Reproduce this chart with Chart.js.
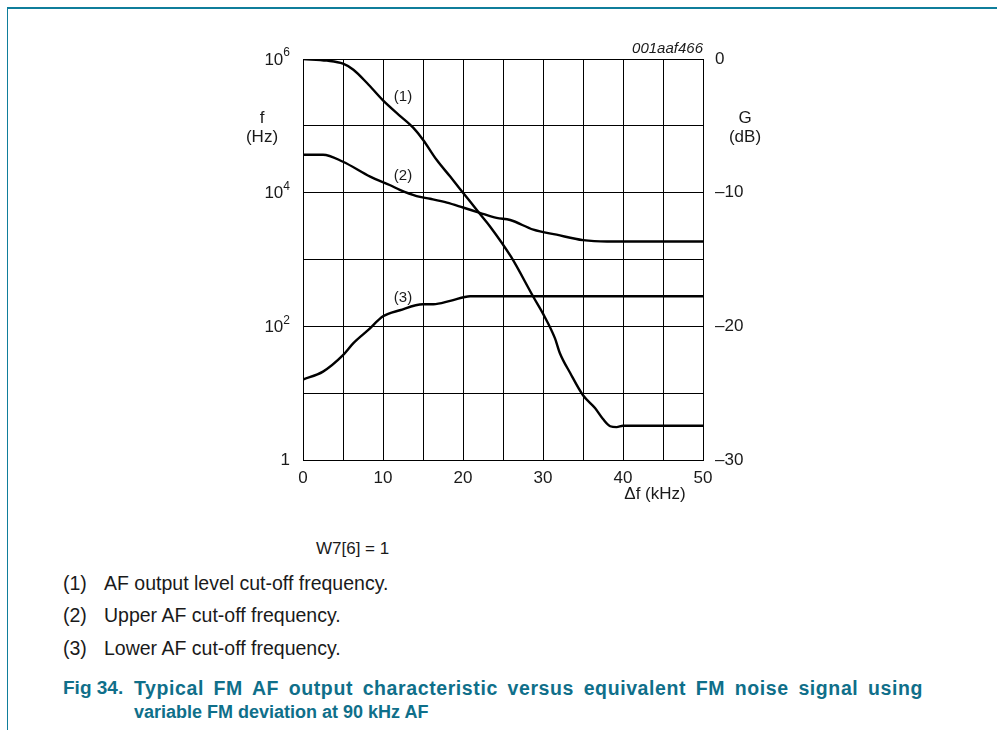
<!DOCTYPE html>
<html>
<head>
<meta charset="utf-8">
<script src="https://cdn.jsdelivr.net/npm/chart.js@4.4.1/dist/chart.umd.min.js"></script>
<style>
  body { margin: 0; width: 997px; height: 730px; background: #fff; position: relative; overflow: hidden;
         font-family: "Liberation Sans", Arial, sans-serif; color: #1a1a1a; }
  .frame { position: absolute; left: 7px; top: 7px; right: -5px; bottom: -5px;
           border-top: 2px solid #0f7e9b; border-left: 1px solid #0f7e9b; }
  #wrap { position: absolute; left: 200px; top: 30px; width: 580px; height: 490px; }
  .note { position: absolute; font-size: 19.5px; line-height: 22px; white-space: nowrap; }
  .title { position: absolute; font-size: 18px; font-weight: bold; color: #0f6f8a; line-height: 22px; white-space: nowrap; }
  .just { width: 789px; font-size: 19.5px; letter-spacing: 0.6px; text-align: justify; text-align-last: justify; }
</style>
</head>
<body>
<div class="frame"></div>
<div id="wrap"><canvas id="c"></canvas></div>

<div class="note" style="left:316px; top:538px; font-size:17px;">W7[6] = 1</div>
<div class="note" style="left:63px; top:572px;">(1)</div>
<div class="note" style="left:104px; top:572px;">AF output level cut-off frequency.</div>
<div class="note" style="left:63px; top:604px;">(2)</div>
<div class="note" style="left:104px; top:604px;">Upper AF cut-off frequency.</div>
<div class="note" style="left:63px; top:637px;">(3)</div>
<div class="note" style="left:104px; top:637px;">Lower AF cut-off frequency.</div>
<div class="title" style="left:63px; top:677px; font-size:19px;">Fig 34.</div>
<div class="title just" style="left:134px; top:677px;">Typical FM AF output characteristic versus equivalent FM noise signal using</div>
<div class="title" style="left:134px; top:701px;">variable FM deviation at 90 kHz AF</div>

<script>
// curve (1): AF output level cut-off frequency
const curve1Df = [0, 3, 5, 6.3, 8, 10, 12, 13.8, 15, 16.7, 18.4, 20, 22, 23.4, 26, 28.8, 30, 31.5, 32.1, 33.4, 35, 36.5, 37.5, 38.4, 39.2, 40, 50];
const curve1F  = [1e6, 944000, 851000, 692000, 437000, 240000, 145000, 93000, 62000, 31000, 17400, 10000, 5000, 3100, 1100, 275, 155, 66, 40, 20, 9.3, 6, 4.1, 3.2, 3.1, 3.25, 3.25];

// curve (2): upper AF cut-off frequency
const curve2Df = [0, 2.5, 5, 8.4, 10.9, 12.1, 14.2, 15.9, 18, 20, 22.1, 24.2, 25.9, 28.8, 31.7, 35, 38, 50];
const curve2F  = [37000, 37000, 29000, 17400, 12900, 11000, 8900, 8100, 7100, 6000, 5000, 4200, 3900, 2800, 2350, 1950, 1860, 1860];

// curve (3): lower AF cut-off frequency
const curve3Df = [0, 2.5, 5, 6.3, 8.2, 10, 12.1, 15, 16.3, 18.4, 20.9, 50];
const curve3F  = [16, 21, 37, 56, 89, 141, 174, 214, 214, 240, 282, 282];

const curveNames = ['(1)', '(2)', '(3)'];
const labelAt = [[12.5, 2.7e5], [12.5, 1.8e4], [12.5, 265]]; // where the (n) tags sit, in data units

// axes
const fTicks = [1, 10, 100, 1e3, 1e4, 1e5, 1e6];
const fLabelExp = [0, 2, 4, 6];
const gMin = -30, gMax = 0;

function pts(xs, ys) { return xs.map((x, i) => ({ x: x, y: ys[i] })); }

const lineStyle = {
  borderColor: '#000', borderWidth: 2.4, pointRadius: 0,
  cubicInterpolationMode: 'monotone', fill: false, yAxisID: 'y'
};

const FONT = '"Liberation Sans", Arial, sans-serif';

// text around the plot: left tick labels with superscripts, axis names, curve tags
const extras = {
  id: 'extras',
  afterDraw(chart) {
    const ctx = chart.ctx, y = chart.scales.y, x = chart.scales.x, area = chart.chartArea;
    ctx.save();
    ctx.fillStyle = '#1a1a1a';
    ctx.textBaseline = 'middle';
    const right = area.left - 13;
    fLabelExp.forEach(e => {
      const py = y.getPixelForValue(Math.pow(10, e));
      ctx.textAlign = 'right';
      if (e === 0) {
        ctx.font = '17px ' + FONT;
        ctx.fillText('1', right, py);
      } else {
        ctx.font = '12px ' + FONT;
        const sw = ctx.measureText(String(e)).width;
        ctx.fillText(String(e), right, py - 6);
        ctx.font = '17px ' + FONT;
        ctx.fillText('10', right - sw, py + 1);
      }
    });
    ctx.font = '17px ' + FONT;
    ctx.textAlign = 'center';
    ctx.fillText('f', area.left - 41, area.top + 59);
    ctx.fillText('(Hz)', area.left - 41, area.top + 78);
    ctx.fillText('G', area.right + 42, area.top + 59);
    ctx.fillText('(dB)', area.right + 42, area.top + 78);
    ctx.fillText('\u0394f (kHz)', x.getPixelForValue(44), area.bottom + 34);
    ctx.font = 'italic 15px ' + FONT;
    ctx.textAlign = 'right';
    ctx.fillText('001aaf466', area.right, area.top - 10);
    ctx.font = '15px ' + FONT;
    ctx.textAlign = 'center';
    curveNames.forEach((n, i) => {
      ctx.fillText(n, x.getPixelForValue(labelAt[i][0]), y.getPixelForValue(labelAt[i][1]));
    });
    ctx.restore();
  }
};

new Chart(document.getElementById('c'), {
  type: 'line',
  data: {
    datasets: [
      Object.assign({ label: curveNames[0], data: pts(curve1Df, curve1F) }, lineStyle),
      Object.assign({ label: curveNames[1], data: pts(curve2Df, curve2F) }, lineStyle),
      Object.assign({ label: curveNames[2], data: pts(curve3Df, curve3F) }, lineStyle)
    ]
  },
  options: {
    responsive: true,
    maintainAspectRatio: false,
    animation: false,
    layout: { padding: { top: 29, left: 0, right: 0, bottom: 0 } },
    plugins: { legend: { display: false }, tooltip: { enabled: false } },
    scales: {
      x: {
        type: 'linear', min: 0, max: 50,
        afterFit(s) { s.height = 60; },
        grid: { color: '#000', lineWidth: 1, drawTicks: false },
        border: { color: '#000', width: 1 },
        ticks: {
          stepSize: 5, padding: 8, color: '#1a1a1a', font: { family: FONT, size: 17 },
          maxRotation: 0, autoSkip: false,
          callback: v => (v % 10 === 0 ? String(v) : '')
        }
      },
      y: {
        type: 'logarithmic', position: 'left', min: 1, max: 1e6,
        afterBuildTicks(s) { s.ticks = fTicks.map(v => ({ value: v })); },
        afterFit(s) { s.width = 103; },
        grid: { color: '#000', lineWidth: 1, drawTicks: false },
        border: { color: '#000', width: 1 },
        ticks: { display: false }
      },
      y2: {
        type: 'linear', position: 'right', min: gMin, max: gMax,
        afterFit(s) { s.width = 77; },
        grid: { display: false, drawTicks: false },
        border: { display: false },
        ticks: {
          stepSize: 10, padding: 12, color: '#1a1a1a', font: { family: FONT, size: 17 },
          callback: v => (v === 0 ? '0' : '\u2013' + Math.abs(v))
        }
      }
    }
  },
  plugins: [extras]
});
</script>
</body>
</html>
